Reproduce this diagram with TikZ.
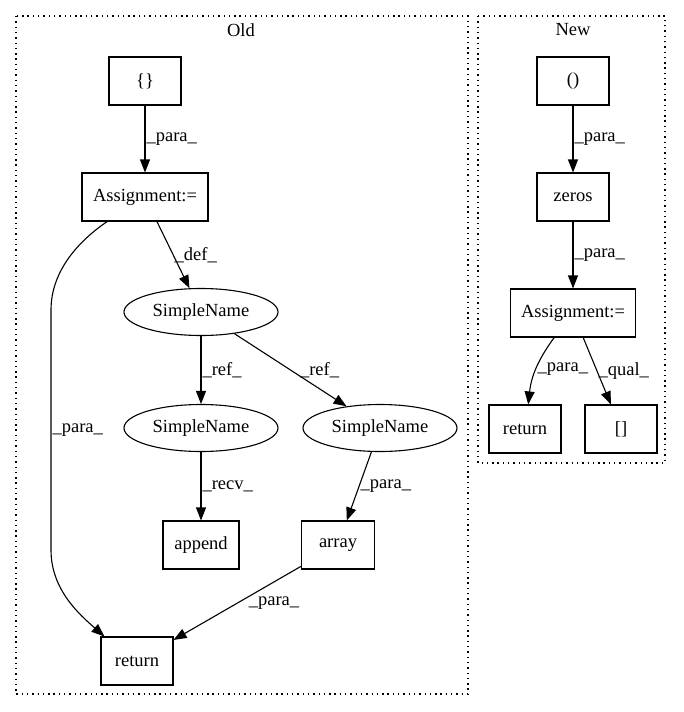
\documentclass[tikz,border=0pt]{standalone}
\usepackage{fontspec}
\setmainfont{Liberation Serif}
\usetikzlibrary{positioning, calc, arrows.meta, shapes.geometric}

\begin{document}
\begin{tikzpicture}[x=1pt, y=-1pt, line width=1.1pt, font=\fontsize{18.5}{22}\selectfont,
                    box/.style={draw, minimum width=72pt, minimum height=48pt, inner sep=0pt},
                    wide/.style={box, minimum width=126pt},
                    simplename/.style={draw, ellipse, minimum width=154pt, minimum height=47pt, inner sep=0pt},
                    lbl/.style={inner sep=1pt, anchor=west},
                    flow/.style={-{Triangle[length=13pt, width=10pt]}},
                    clusterbox/.style={draw, line width=1.2pt, dash pattern=on 1.4pt off 3.9pt}]
                        \useasboundingbox (0,0) rectangle (684,712);
                        % clusters
                        \draw[clusterbox] (16,16) rectangle (468,694);
                        \draw[clusterbox] (478,16) rectangle (665,463);
                        \node (oldtitle) at (241,30) {Old};
                        \node (newtitle) at (573,30) {New};
                        % old
                        \node[box] (oldbraces) at (145,81) {\{\}};
                        \node[wide] (oldassign) at (145,197) {Assignment:=};
                        \node[simplename] (sn1) at (201,312) {SimpleName};
                        \node[simplename] (sn2) at (201,428) {SimpleName};
                        \node[simplename] (sn3) at (380,428) {SimpleName};
                        \node[box, minimum width=76pt] (append) at (201,545) {append};
                        \node[box, minimum width=73pt] (array) at (338,545) {array};
                        \node[box] (oldreturn) at (137,661) {return};
                        \draw[flow] (oldbraces) -- node[lbl] (l1) {\_para\_} (oldassign);
                        \draw[flow] (oldassign) -- node[lbl] (l2) {\_def\_} (sn1);
                        \draw[flow] (sn1) -- node[lbl] (l3) {\_ref\_} (sn2);
                        \draw[flow] (sn1) -- node[lbl, xshift=8pt] (l4) {\_ref\_} (sn3);
                        \draw[flow] (sn2) -- node[lbl] (l5) {\_recv\_} (append);
                        \draw[flow] (sn3) -- node[lbl] (l6) {\_para\_} (array);
                        \draw[flow] (array) -- node[lbl, xshift=10pt] (l7) {\_para\_} (oldreturn);
                        \draw[flow] (oldassign.213) .. controls (80,240) and (51,270) .. (51,310)
                            -- node[lbl] (l8) {\_para\_} (51,550)
                            .. controls (51,590) and (80,615) .. (oldreturn.143);
                        % new
                        \node[box] (newparens) at (573,81) {()};
                        \node[box] (zeros) at (573,197) {zeros};
                        \node[wide, minimum width=125pt] (newassign) at (573,313) {Assignment:=};
                        \node[box] (newreturn) at (525,429) {return};
                        \node[box] (brackets) at (621,429) {[]};
                        \draw[flow] (newparens) -- node[lbl] (l9) {\_para\_} (zeros);
                        \draw[flow] (zeros) -- node[lbl] (l10) {\_para\_} (newassign);
                        \draw[flow] (newassign) to[bend right=15] node[lbl] (l11) {\_para\_} (newreturn);
                        \draw[flow] (newassign) -- node[lbl] (l12) {\_qual\_} (brackets);
                    \end{tikzpicture}
\end{document}
